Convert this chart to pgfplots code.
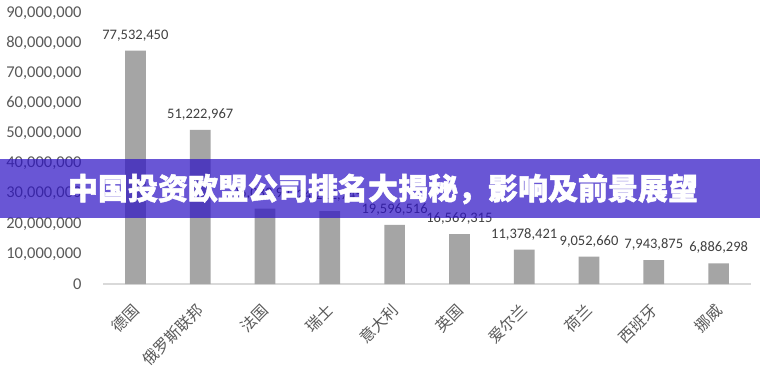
\documentclass[border=0pt]{standalone}
\usepackage{pgfplots}
\pgfplotsset{compat=1.18}
\usepackage{pgfplotstable}
\usepackage{fontspec}
\setmainfont{Carlito}
\newfontfamily\cjk{Noto Sans CJK SC}
\definecolor{bargray}{HTML}{A5A5A5}
\definecolor{ticktext}{HTML}{595959}
\definecolor{labeltext}{HTML}{404040}
\definecolor{axisgray}{HTML}{D9D9D9}
\definecolor{bannerc}{RGB}{45,18,197}

\pgfplotstableread{
x y label
0 77532450 77,532,450
1 51222967 51,222,967
2 25033941 25,033,941
3 24212745 24,212,745
4 19596516 19,596,516
5 16569315 16,569,315
6 11378421 11,378,421
7 9052660 9,052,660
8 7943875 7,943,875
9 6886298 6,886,298
}\datatable

\begin{document}
\begin{tikzpicture}[x=1pt,y=1pt]
\useasboundingbox (0,0) rectangle (760,378);
\fill[white] (0,0) rectangle (760,378);
\begin{axis}[
  at={(103pt,94pt)}, anchor=south west,
  scale only axis, width=648pt, height=271pt,
  xmin=-0.5, xmax=9.5, ymin=0, ymax=90000000,
  scaled y ticks=false,
  axis x line*=bottom, axis y line*=left,
  x axis line style={draw=axisgray, line width=1.2pt},
  y axis line style={draw=none},
  xtick={0,...,9},
  xticklabels={德国,俄罗斯联邦,法国,瑞士,意大利,英国,爱尔兰,荷兰,西班牙,挪威},
  major tick length=0pt,
  xtick style={draw=none},
  xticklabel style={font=\cjk\fontsize{15.5}{15.5}\selectfont, text=ticktext, xshift=3pt, yshift=-21pt, rotate=45, anchor=east},
  ytick={0,10000000,20000000,30000000,40000000,50000000,60000000,70000000,80000000,90000000},
  yticklabels={{0},{10,000,000},{20,000,000},{30,000,000},{40,000,000},{50,000,000},{60,000,000},{70,000,000},{80,000,000},{90,000,000}},
  yticklabel style={font=\fontsize{16.5}{16.5}\selectfont, text=ticktext, anchor=east, xshift=-18pt},
  ytick style={draw=none},
  clip=false,
]
\addplot[ybar, bar width=20.7pt, fill=bargray, draw=none,
  point meta=explicit symbolic,
  nodes near coords,
  nodes near coords style={font=\fontsize{14.5}{14.5}\selectfont, text=labeltext, anchor=south, yshift=6pt},
] table[x=x, y=y, meta=label] {\datatable};
\end{axis}
\fill[bannerc, fill opacity=0.71] (0,160) rectangle (760,219);
\node[text=white, font=\cjk\bfseries\addfontfeature{FakeBold=1.6}\fontsize{30}{30}\selectfont] at (383,189) {中国投资欧盟公司排名大揭秘，影响及前景展望};
\end{tikzpicture}
\end{document}
